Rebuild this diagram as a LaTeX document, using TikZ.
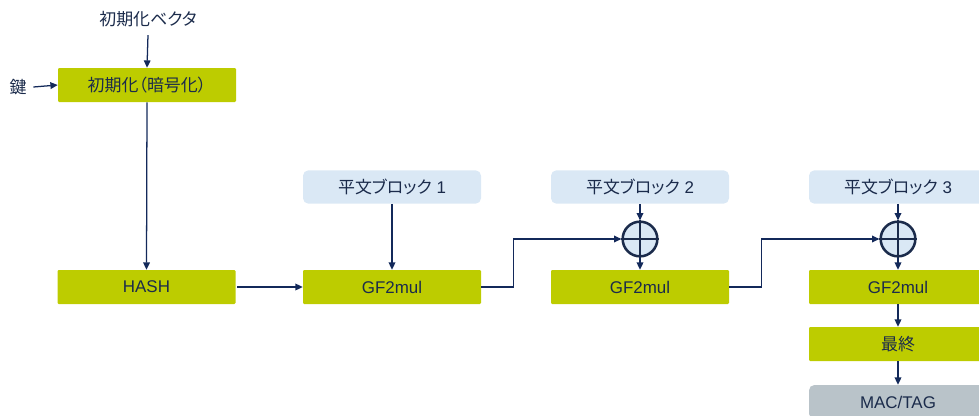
\documentclass[tikz,border=0pt]{standalone}
\usepackage{fontspec}
\setmainfont{Liberation Sans}
\newfontfamily\jp[RawFeature=+palt]{Noto Sans CJK JP}
\usetikzlibrary{arrows.meta}
\definecolor{grn}{HTML}{BDCC00}
\definecolor{navy}{HTML}{1B2B4B}
\definecolor{lblue}{HTML}{DAE8F5}
\definecolor{gry}{HTML}{B9C3C9}
\definecolor{arr}{HTML}{13295A}
\begin{document}
\begin{tikzpicture}[x=0.75pt,y=-0.75pt,
  font=\fontsize{12.7}{14}\selectfont,
  gbox/.style={fill=grn, rounded corners=0.8pt, minimum width=133.5pt, minimum height=25.5pt, inner sep=0pt, text=navy},
  pbox/.style={fill=lblue, rounded corners=4pt, minimum width=133.5pt, minimum height=25pt, inner sep=0pt, text=navy},
  tbox/.style={fill=gry, rounded corners=4pt, minimum width=133.5pt, minimum height=25.5pt, inner sep=0pt, text=navy},
  lbl/.style={text=navy, inner sep=1pt},
  xorc/.style={circle, draw=navy, fill=lblue, line width=1.9pt, minimum size=26pt, inner sep=0pt},
  conn/.style={draw=arr, line width=0.95pt},
  arrw/.style={conn, -{Triangle[length=5.5pt,width=5pt]}}]
\useasboundingbox (0,0) rectangle (979,415);
\clip (0,0) rectangle (979,415);
% nodes
\node[lbl] (iv) at (148,19) {{\jp 初期化ベクタ}};
\node[lbl] (key) at (18,87) {{\jp 鍵}};
\node[gbox] (init) at (147,85) {{\jp 初期化（暗号化）}};
\node[gbox] (hash) at (146.5,287) {HASH};
\node[pbox] (p1) at (392,187) {{\jp 平文ブロック} 1};
\node[gbox] (gf1) at (392,287) {GF2mul};
\node[pbox] (p2) at (640,187) {{\jp 平文ブロック} 2};
\node[xorc] (x2) at (640,239) {};
\node[gbox] (gf2) at (640,287) {GF2mul};
\node[pbox] (p3) at (898,187) {{\jp 平文ブロック} 3};
\node[xorc] (x3) at (898,239) {};
\node[gbox] (gf3) at (898,287) {GF2mul};
\node[gbox] (fin) at (898,344) {{\jp 最終}};
\node[tbox] (mac) at (898,402) {MAC/TAG};
% xor crosses
\foreach \x in {x2,x3}{
  \draw[navy, line width=1.9pt] (\x.north) -- (\x.south);
  \draw[navy, line width=1.9pt] (\x.west) -- (\x.east);
}
% connectors
\draw[arrw] ([yshift=-5pt]iv.south) -- (init.north);
\draw[arrw] ([xshift=4pt]key.east) -- (init.west);
\draw[arrw] (init.south) -- (hash.north);
\draw[arrw] ([xshift=1pt]hash.east) -- (gf1.west);
\draw[arrw] (p1.south) -- (gf1.north);
\draw[arrw] (gf1.east) -- ++(32,0) |- (x2.west);
\draw[arrw] (p2.south) -- (x2.north);
\draw[arrw] (x2.south) -- (gf2.north);
\draw[arrw] (gf2.east) -- ++(32,0) |- (x3.west);
\draw[arrw] (p3.south) -- (x3.north);
\draw[arrw] (x3.south) -- (gf3.north);
\draw[arrw] (gf3.south) -- (fin.north);
\draw[arrw] (fin.south) -- (mac.north);
\end{tikzpicture}
\end{document}
